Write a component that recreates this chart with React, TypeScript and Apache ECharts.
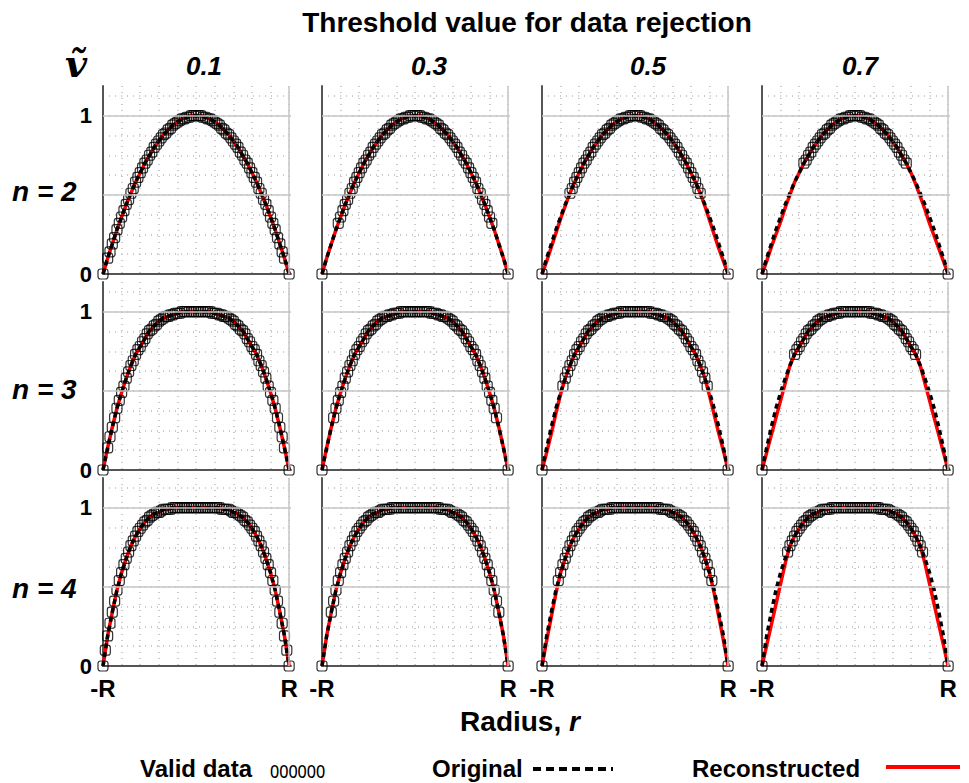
import React, { useEffect, useRef } from 'react';
import * as echarts from 'echarts';

const THRESHOLDS = [0.1, 0.3, 0.5, 0.7];
const THRESHOLD_LABELS = ['0.1', '0.3', '0.5', '0.7'];
const N_VALUES = [2, 3, 4];

const R_POS = [-1, -0.95, -0.9, -0.85, -0.8, -0.75, -0.7, -0.65, -0.6, -0.55, -0.5, -0.45, -0.4, -0.35, -0.3, -0.25, -0.2, -0.15, -0.1, -0.05, 0,
  0.05, 0.1, 0.15, 0.2, 0.25, 0.3, 0.35, 0.4, 0.45, 0.5, 0.55, 0.6, 0.65, 0.7, 0.75, 0.8, 0.85, 0.9, 0.95, 1];

// Original profiles
const ORIG_N2 = [0, 0.10, 0.19, 0.28, 0.36, 0.44, 0.51, 0.58, 0.64, 0.70, 0.75, 0.80, 0.84, 0.88, 0.91, 0.94, 0.96, 0.98, 0.99, 1.00, 1.00,
  1.00, 0.99, 0.98, 0.96, 0.94, 0.91, 0.88, 0.84, 0.80, 0.75, 0.70, 0.64, 0.58, 0.51, 0.44, 0.36, 0.28, 0.19, 0.10, 0];
const ORIG_N3 = [0, 0.14, 0.27, 0.39, 0.49, 0.58, 0.66, 0.73, 0.78, 0.83, 0.88, 0.91, 0.94, 0.96, 0.97, 0.98, 0.99, 1.00, 1.00, 1.00, 1.00,
  1.00, 1.00, 1.00, 0.99, 0.98, 0.97, 0.96, 0.94, 0.91, 0.88, 0.83, 0.78, 0.73, 0.66, 0.58, 0.49, 0.39, 0.27, 0.14, 0];
const ORIG_N4 = [0, 0.19, 0.34, 0.48, 0.59, 0.68, 0.76, 0.82, 0.87, 0.91, 0.94, 0.96, 0.97, 0.99, 0.99, 1.00, 1.00, 1.00, 1.00, 1.00, 1.00,
  1.00, 1.00, 1.00, 1.00, 1.00, 0.99, 0.99, 0.97, 0.96, 0.94, 0.91, 0.87, 0.82, 0.76, 0.68, 0.59, 0.48, 0.34, 0.19, 0];

// Additional measured samples (valid data) between the grid positions above
const R_MID = [-0.975, -0.925, -0.875, -0.825, -0.775, -0.725, -0.675, -0.625, -0.575, -0.525, -0.475, -0.425, -0.375, -0.325, -0.275, -0.225, -0.175, -0.125, -0.075, -0.025,
  0.025, 0.075, 0.125, 0.175, 0.225, 0.275, 0.325, 0.375, 0.425, 0.475, 0.525, 0.575, 0.625, 0.675, 0.725, 0.775, 0.825, 0.875, 0.925, 0.975];
const MID_N2 = [0.05, 0.14, 0.23, 0.32, 0.40, 0.47, 0.54, 0.61, 0.67, 0.72, 0.77, 0.82, 0.86, 0.89, 0.92, 0.95, 0.97, 0.98, 0.99, 1.00,
  1.00, 0.99, 0.98, 0.97, 0.95, 0.92, 0.89, 0.86, 0.82, 0.77, 0.72, 0.67, 0.61, 0.54, 0.47, 0.40, 0.32, 0.23, 0.14, 0.05];
const MID_N3 = [0.07, 0.21, 0.33, 0.44, 0.53, 0.62, 0.69, 0.76, 0.81, 0.86, 0.89, 0.92, 0.95, 0.97, 0.98, 0.99, 0.99, 1.00, 1.00, 1.00,
  1.00, 1.00, 1.00, 0.99, 0.99, 0.98, 0.97, 0.95, 0.92, 0.89, 0.86, 0.81, 0.76, 0.69, 0.62, 0.53, 0.44, 0.33, 0.21, 0.07];
const MID_N4 = [0.10, 0.27, 0.41, 0.54, 0.64, 0.72, 0.79, 0.85, 0.89, 0.92, 0.95, 0.97, 0.98, 0.99, 0.99, 1.00, 1.00, 1.00, 1.00, 1.00,
  1.00, 1.00, 1.00, 1.00, 1.00, 0.99, 0.99, 0.98, 0.97, 0.95, 0.92, 0.89, 0.85, 0.79, 0.72, 0.64, 0.54, 0.41, 0.27, 0.10];

// Reconstructed profiles (differ from the original where data were rejected)
const REC_N2_T05 = [0, 0.08, 0.17, 0.26, 0.35, 0.43, 0.51, 0.58, 0.64, 0.70, 0.75, 0.80, 0.84, 0.88, 0.91, 0.94, 0.96, 0.98, 0.99, 1.00, 1.00,
  1.00, 0.99, 0.98, 0.96, 0.94, 0.91, 0.88, 0.84, 0.80, 0.75, 0.70, 0.64, 0.58, 0.51, 0.43, 0.34, 0.25, 0.16, 0.08, 0];
const REC_N3_T05 = [0, 0.11, 0.23, 0.36, 0.48, 0.58, 0.66, 0.73, 0.78, 0.83, 0.88, 0.91, 0.94, 0.96, 0.97, 0.98, 0.99, 1.00, 1.00, 1.00, 1.00,
  1.00, 1.00, 1.00, 0.99, 0.98, 0.97, 0.96, 0.94, 0.91, 0.88, 0.83, 0.78, 0.73, 0.66, 0.58, 0.47, 0.35, 0.23, 0.12, 0];
const REC_N4_T05 = [0, 0.16, 0.31, 0.46, 0.59, 0.68, 0.76, 0.82, 0.87, 0.91, 0.94, 0.96, 0.97, 0.99, 0.99, 1.00, 1.00, 1.00, 1.00, 1.00, 1.00,
  1.00, 1.00, 1.00, 1.00, 1.00, 0.99, 0.99, 0.97, 0.96, 0.94, 0.91, 0.87, 0.82, 0.76, 0.68, 0.59, 0.46, 0.31, 0.16, 0];
const REC_N2_T07 = [0, 0.08, 0.17, 0.25, 0.33, 0.42, 0.50, 0.58, 0.64, 0.70, 0.75, 0.80, 0.84, 0.88, 0.91, 0.94, 0.96, 0.98, 0.99, 1.00, 1.00,
  1.00, 0.99, 0.98, 0.96, 0.94, 0.91, 0.88, 0.84, 0.80, 0.75, 0.70, 0.64, 0.57, 0.49, 0.41, 0.32, 0.24, 0.16, 0.08, 0];
const REC_N3_T07 = [0, 0.11, 0.22, 0.33, 0.44, 0.55, 0.66, 0.73, 0.78, 0.83, 0.88, 0.91, 0.94, 0.96, 0.97, 0.98, 0.99, 1.00, 1.00, 1.00, 1.00,
  1.00, 1.00, 1.00, 0.99, 0.98, 0.97, 0.96, 0.94, 0.91, 0.88, 0.83, 0.78, 0.73, 0.66, 0.55, 0.44, 0.33, 0.22, 0.11, 0];
const REC_N4_T07 = [0, 0.13, 0.26, 0.39, 0.52, 0.65, 0.76, 0.82, 0.87, 0.91, 0.94, 0.96, 0.97, 0.99, 0.99, 1.00, 1.00, 1.00, 1.00, 1.00, 1.00,
  1.00, 1.00, 1.00, 1.00, 1.00, 0.99, 0.99, 0.97, 0.96, 0.94, 0.91, 0.87, 0.82, 0.76, 0.65, 0.52, 0.39, 0.26, 0.13, 0];

const ORIGINALS = [ORIG_N2, ORIG_N3, ORIG_N4];
const MIDS = [MID_N2, MID_N3, MID_N4];
const RECONSTRUCTED = [
  [ORIG_N2, ORIG_N2, REC_N2_T05, REC_N2_T07],
  [ORIG_N3, ORIG_N3, REC_N3_T05, REC_N3_T07],
  [ORIG_N4, ORIG_N4, REC_N4_T05, REC_N4_T07],
];

const COL_LEFT = [103, 322, 542, 762];
const ROW_TOP = [86, 282, 478];
const GRID_W = 188;
const GRID_H = 188;

const BOLD_FONT = '"Liberation Sans", Arial, sans-serif';

export default function App() {
  const ref = useRef<HTMLDivElement>(null);
  useEffect(() => {
    if (!ref.current) return;
    const chart = echarts.init(ref.current, null, { renderer: 'svg' });
    const grids: any[] = [];
    const xAxes: any[] = [];
    const yAxes: any[] = [];
    const series: any[] = [];
    const dotted = { color: '#bcbcbc', type: [1, 5], width: 1.5 };
    const axisLine = { show: true, onZero: false, lineStyle: { color: '#555', width: 2 } };
    N_VALUES.forEach((n, row) => {
      THRESHOLDS.forEach((t, col) => {
        const idx = row * 4 + col;
        grids.push({ left: COL_LEFT[col], top: ROW_TOP[row], width: GRID_W, height: GRID_H });
        xAxes.push({
          gridIndex: idx, type: 'value', min: -1, max: 1.02, interval: 0.2,
          axisLine, axisTick: { show: false },
          axisLabel: {
            show: row === 2, margin: 10, fontSize: 24, fontWeight: 'bold', color: '#000', fontFamily: BOLD_FONT,
            showMaxLabel: false,
            formatter: (v: number) => (Math.abs(v + 1) < 1e-9 ? '-R' : Math.abs(v - 1) < 1e-9 ? 'R' : ''),
          },
          splitLine: { show: true, showMaxLine: false, lineStyle: dotted },
        });
        yAxes.push({
          gridIndex: idx, type: 'value', min: 0, max: 1.1875, interval: 0.125,
          axisLine, axisTick: { show: false },
          axisLabel: {
            show: col === 0, margin: 11, fontSize: 22, fontWeight: 'bold', color: '#000', fontFamily: BOLD_FONT,
            showMaxLabel: false,
            formatter: (v: number) => (Math.abs(v) < 1e-9 ? '0' : Math.abs(v - 1) < 1e-9 ? '1' : ''),
          },
          splitLine: { show: true, showMaxLine: false, lineStyle: dotted },
        });
        const orig = ORIGINALS[row];
        const mid = MIDS[row];
        const rec = RECONSTRUCTED[row][col];
        const valid = R_POS.map((r, i) => [r, orig[i]])
          .concat(R_MID.map((r, i) => [r, mid[i]]))
          .filter((p) => p[1] >= t || p[1] === 0);
        series.push({
          type: 'line', xAxisIndex: idx, yAxisIndex: idx, z: 2,
          data: R_POS.map((r, i) => [r, rec[i]]), showSymbol: false,
          lineStyle: { color: '#ff0000', width: 3.5 },
          markLine: {
            silent: true, symbol: 'none', label: { show: false },
            lineStyle: { color: '#c6c6c6', type: 'solid', width: 1.5 },
            data: [{ yAxis: 0.5 }, { yAxis: 1 }, { xAxis: 1 }],
          },
        });
        series.push({
          type: 'line', xAxisIndex: idx, yAxisIndex: idx, z: 3,
          data: R_POS.map((r, i) => [r, orig[i]]), showSymbol: false,
          lineStyle: { color: '#000', width: 3.5, type: [5, 4] },
        });
        series.push({
          type: 'scatter', xAxisIndex: idx, yAxisIndex: idx, z: 4,
          data: valid, symbol: 'roundRect', symbolSize: [10, 10],
          itemStyle: { color: 'rgba(0,0,0,0)', borderColor: '#000', borderWidth: 1.2 },
        });
      });
    });

    const graphic: any[] = [
      { type: 'text', x: 527, y: 22, style: { text: 'Threshold value for data rejection', font: `bold 28px ${BOLD_FONT}`, fill: '#000', align: 'center', verticalAlign: 'middle' } },
      { type: 'text', x: 76, y: 63, style: { text: 'ṽ', font: 'italic bold 38px "DejaVu Serif", serif', fill: '#000', align: 'center', verticalAlign: 'middle' } },
      { type: 'text', x: 520, y: 721, style: {
        text: '{a|Radius, }{b|r}', align: 'center', verticalAlign: 'middle',
        rich: {
          a: { fontSize: 28, fontWeight: 'bold', fontFamily: BOLD_FONT, fill: '#000' },
          b: { fontSize: 28, fontWeight: 'bold', fontStyle: 'italic', fontFamily: BOLD_FONT, fill: '#000' },
        },
      } },
      { type: 'text', x: 140, y: 768, style: { text: 'Valid data', font: `bold 24px ${BOLD_FONT}`, fill: '#000', align: 'left', verticalAlign: 'middle' } },
      { type: 'text', x: 270, y: 770, scaleX: 0.72, style: { text: 'oooooo', font: `normal 23px ${BOLD_FONT}`, fill: '#000', align: 'left', verticalAlign: 'middle' } },
      { type: 'text', x: 432, y: 768, style: { text: 'Original', font: `bold 24px ${BOLD_FONT}`, fill: '#000', align: 'left', verticalAlign: 'middle' } },
      { type: 'line', shape: { x1: 533, y1: 769, x2: 613, y2: 769 }, style: { stroke: '#000', lineWidth: 4, lineDash: [8, 5] } },
      { type: 'text', x: 692, y: 768, style: { text: 'Reconstructed', font: `bold 24px ${BOLD_FONT}`, fill: '#000', align: 'left', verticalAlign: 'middle' } },
      { type: 'line', shape: { x1: 886, y1: 767, x2: 960, y2: 767 }, style: { stroke: '#ff0000', lineWidth: 4 } },
    ];
    const colCenters = [204, 429, 648, 860];
    THRESHOLD_LABELS.forEach((lab, i) => {
      graphic.push({ type: 'text', x: colCenters[i], y: 66, style: { text: lab, font: `italic bold 26px ${BOLD_FONT}`, fill: '#000', align: 'center', verticalAlign: 'middle' } });
    });
    const rowCenters = [191, 389, 588];
    N_VALUES.forEach((n, i) => {
      graphic.push({ type: 'text', x: 12, y: rowCenters[i], style: { text: `n = ${n}`, font: `italic bold 28px ${BOLD_FONT}`, fill: '#000', align: 'left', verticalAlign: 'middle' } });
    });

    chart.setOption({
      animation: false,
      backgroundColor: '#fff',
      grid: grids,
      xAxis: xAxes,
      yAxis: yAxes,
      series,
      graphic,
    });
    return () => chart.dispose();
  }, []);
  return <div ref={ref} style={{ position: 'fixed', left: 0, top: 0, width: 969, height: 783 }} />;
}
